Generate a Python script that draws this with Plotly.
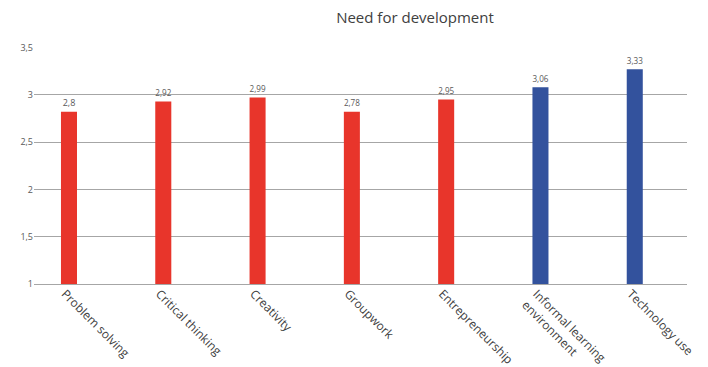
import plotly.graph_objects as go

categories = ["Problem solving", "Critical thinking", "Creativity", "Groupwork",
              "Entrepreneurship", "Informal learning<br>environment", "Technology use"]
bar_values = [2.82, 2.93, 2.97, 2.82, 2.95, 3.08, 3.27]
value_labels = ["2,8", "2,92", "2,99", "2,78", "2,95", "3,06", "3,33"]
bar_colors = ["#E8352B", "#E8352B", "#E8352B", "#E8352B", "#E8352B", "#33529D", "#33529D"]
y_ticks = [1, 1.5, 2, 2.5, 3, 3.5]

fig = go.Figure()
fig.add_trace(go.Bar(
    x=list(range(len(categories))),
    y=[v - 1 for v in bar_values],
    base=1,
    marker=dict(color=bar_colors, line=dict(width=0)),
    width=0.17,
    text=value_labels,
    textposition="outside",
    textfont=dict(size=9, color="#595959"),
    cliponaxis=False,
))

fig.update_layout(
    width=708, height=367,
    margin=dict(l=34, r=21, t=47, b=83, autoexpand=False),
    paper_bgcolor="white", plot_bgcolor="white",
    font=dict(family="Open Sans", color="#404040"),
    separators=",.",
    showlegend=False,
    title=dict(text="Need for development", x=415/708, xanchor="center",
               y=1 - 18/367, yanchor="middle",
               font=dict(size=15, color="#404040")),
    xaxis=dict(
        tickmode="array", tickvals=list(range(len(categories))), ticktext=categories,
        tickangle=45, range=[-0.371, 6.554], automargin=False,
        showgrid=False, zeroline=False,
        showline=True, linecolor="#a6a6a6", linewidth=1.3,
        tickfont=dict(size=12, color="#404040"),
        ticks="", ticklen=0, ticklabelstandoff=-3, ticklabelshift=-4,
    ),
    yaxis=dict(
        range=[1, 3.505], tickvals=y_ticks, automargin=False,
        showgrid=True, gridcolor="#a6a6a6", gridwidth=1.3,
        zeroline=False, showline=False,
        tickfont=dict(size=9, color="#595959"),
        ticks="", ticklen=0,
    ),
)

fig.write_html("out.html")
